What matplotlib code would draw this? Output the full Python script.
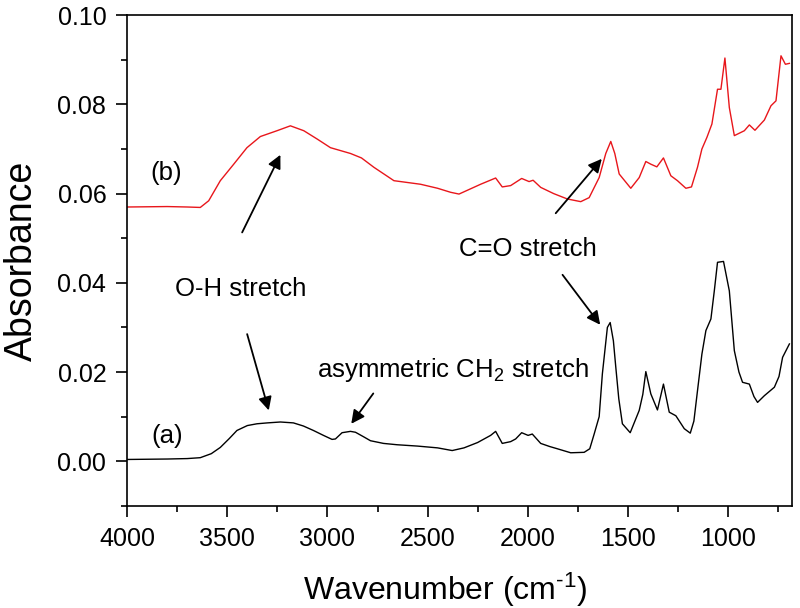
import matplotlib.pyplot as plt
from matplotlib.ticker import MultipleLocator

plt.rcParams['font.family'] = ['Liberation Sans', 'DejaVu Sans']
plt.rcParams['mathtext.fontset'] = 'custom'
plt.rcParams['mathtext.rm'] = 'Liberation Sans'
plt.rcParams['mathtext.it'] = 'Liberation Sans:italic'

# spectrum (a) - black
wn_a = [4000, 3800, 3700, 3635, 3580, 3535, 3490, 3452, 3400, 3352, 3300, 3235, 3170,
        3120, 3070, 3020, 2977, 2960, 2927, 2885, 2860, 2820, 2785, 2720, 2652, 2550,
        2450, 2377, 2318, 2250, 2185, 2160, 2127, 2085, 2060, 2030, 1998, 1977, 1935,
        1890, 1852, 1785, 1718, 1690, 1668, 1643, 1627, 1602, 1588, 1572, 1560, 1545,
        1527, 1488, 1443, 1425, 1410, 1385, 1352, 1322, 1293, 1260, 1218, 1188, 1170,
        1152, 1130, 1110, 1085, 1068, 1052, 1022, 993, 968, 945, 927, 893, 870, 852,
        818, 768, 745, 727, 693]
abs_a = [0.0004, 0.0005, 0.0006, 0.0008, 0.0017, 0.0031, 0.0051, 0.0069, 0.0080, 0.0084,
         0.0086, 0.0088, 0.0086, 0.0079, 0.0069, 0.0058, 0.0049, 0.0050, 0.0064, 0.0067,
         0.0065, 0.0055, 0.0046, 0.0040, 0.0037, 0.0034, 0.0030, 0.0024, 0.0030, 0.0042,
         0.0058, 0.0067, 0.0040, 0.0044, 0.0050, 0.0064, 0.0058, 0.0061, 0.0040, 0.0033,
         0.0028, 0.0019, 0.0020, 0.0028, 0.0061, 0.0100, 0.0196, 0.0300, 0.0311, 0.0270,
         0.0211, 0.0140, 0.0084, 0.0064, 0.0114, 0.0150, 0.0201, 0.0151, 0.0115, 0.0173,
         0.0110, 0.0102, 0.0073, 0.0063, 0.0090, 0.0158, 0.0240, 0.0293, 0.0319, 0.0382,
         0.0446, 0.0448, 0.0382, 0.0248, 0.0200, 0.0177, 0.0173, 0.0145, 0.0132, 0.0147,
         0.0166, 0.0190, 0.0233, 0.0263]

# spectrum (b) - red
wn_b = [4000, 3800, 3700, 3635, 3593, 3535, 3468, 3402, 3335, 3252, 3185, 3118, 3050,
        2985, 2885, 2830, 2768, 2668, 2535, 2450, 2385, 2343, 2235, 2160, 2127, 2085,
        2030, 1993, 1973, 1935, 1870, 1802, 1735, 1693, 1643, 1610, 1585, 1565, 1543,
        1485, 1443, 1410, 1385, 1355, 1322, 1285, 1252, 1210, 1182, 1152, 1130, 1105,
        1080, 1052, 1035, 1015, 993, 968, 918, 893, 865, 818, 785, 760, 735, 713, 693]
abs_b = [0.0570, 0.0571, 0.0570, 0.0569, 0.0584, 0.0629, 0.0666, 0.0703, 0.0728, 0.0741,
         0.0752, 0.0741, 0.0722, 0.0703, 0.0690, 0.0680, 0.0659, 0.0629, 0.0621, 0.0612,
         0.0603, 0.0599, 0.0621, 0.0635, 0.0615, 0.0618, 0.0634, 0.0627, 0.0630, 0.0614,
         0.0600, 0.0588, 0.0582, 0.0591, 0.0636, 0.0690, 0.0717, 0.0690, 0.0644, 0.0612,
         0.0636, 0.0672, 0.0666, 0.0660, 0.0680, 0.0640, 0.0629, 0.0612, 0.0615, 0.0659,
         0.0700, 0.0726, 0.0756, 0.0834, 0.0834, 0.0904, 0.0793, 0.0730, 0.0741, 0.0754,
         0.0742, 0.0765, 0.0797, 0.0808, 0.0909, 0.0890, 0.0892]

fig = plt.figure(figsize=(8, 6.08), dpi=100)
ax = fig.add_axes([0.159, 0.168, 0.831, 0.807])

ax.plot(wn_a, abs_a, color='black', lw=1.0)
ax.plot(wn_b, abs_b, color='#e8161b', lw=1.0)

ax.set_xlim(4000, 680)
ax.set_ylim(-0.01, 0.10)
ax.xaxis.set_major_locator(MultipleLocator(500))
ax.xaxis.set_minor_locator(MultipleLocator(250))
ax.yaxis.set_major_locator(MultipleLocator(0.02))
ax.yaxis.set_minor_locator(MultipleLocator(0.01))
ax.yaxis.set_major_formatter(plt.FormatStrFormatter('%.2f'))
ax.tick_params(which='major', direction='out', length=8, width=1.2, labelsize=18, pad=7)
ax.tick_params(which='minor', direction='out', length=4.5, width=1.2)
ax.tick_params(top=False, right=False, which='both')
for s in ax.spines.values():
    s.set_linewidth(1.2)

ax.set_xlabel('Wavenumber (cm$^{\\text{-1}}$)', fontsize=23)
ax.xaxis.set_label_coords(0.478, -0.132)
ax.set_ylabel('Absorbance', fontsize=27)
ax.yaxis.set_label_coords(-0.131, 0.5)

arrow = dict(arrowstyle='-|>', color='black', lw=1.3, mutation_scale=20,
             shrinkA=0, shrinkB=0)
ax.annotate('', xy=(3235, 0.0687), xytext=(3426, 0.0513), arrowprops=arrow)
ax.annotate('', xy=(3293, 0.0114), xytext=(3401, 0.0285), arrowprops=arrow)
ax.annotate('', xy=(2881, 0.0084), xytext=(2771, 0.0152), arrowprops=arrow)
ax.annotate('', xy=(1630, 0.0678), xytext=(1860, 0.0556), arrowprops=arrow)
ax.annotate('', xy=(1638, 0.0306), xytext=(1826, 0.0418), arrowprops=arrow)

ax.text(3805, 0.0647, '(b)', fontsize=18.5, ha='center', va='center')
ax.text(3802, 0.0056, '(a)', fontsize=18.5, ha='center', va='center')
ax.text(3432, 0.0371, 'O-H stretch', fontsize=18.5, ha='center', va='baseline')
ax.text(2000, 0.0461, 'C=O stretch', fontsize=18.5, ha='center', va='baseline')
ax.text(2372, 0.0190, 'asymmetric CH$_2$ stretch', fontsize=18.5, ha='center', va='baseline')

plt.savefig('out.png', dpi=100)
